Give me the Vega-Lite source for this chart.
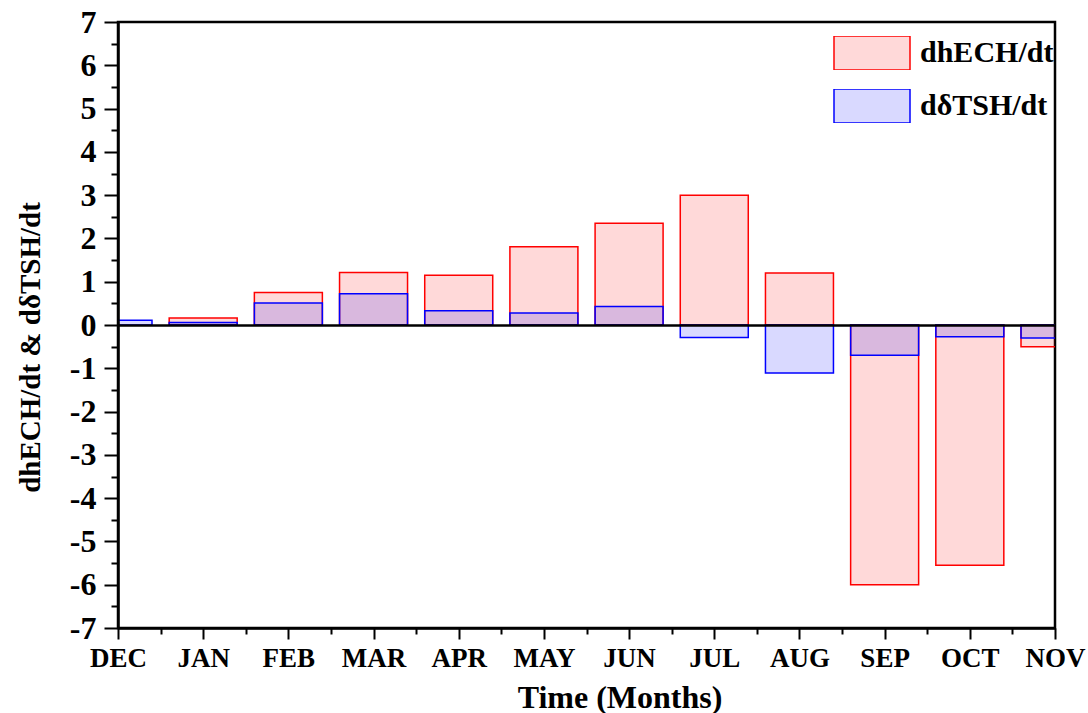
{
  "$schema": "https://vega.github.io/schema/vega-lite/v6.json",
  "width": 937,
  "height": 606,
  "autosize": "none",
  "padding": {"left": 118, "top": 22, "right": 33, "bottom": 85},
  "background": "white",
  "config": {
    "view": {"stroke": "black", "strokeWidth": 2.5},
    "font": "Liberation Serif",
    "axis": {
      "labelFont": "Liberation Serif",
      "labelFontWeight": "bold",
      "labelColor": "black",
      "titleFont": "Liberation Serif",
      "titleFontWeight": "bold",
      "titleColor": "black",
      "domainColor": "black",
      "domainWidth": 2.5,
      "tickColor": "black",
      "tickWidth": 2,
      "grid": false,
      "labelOverlap": false,
      "labelFlush": false
    }
  },
  "data": {
    "values": [
      {"idx": 1, "month": "JAN", "series": "dhECH/dt", "value": 0.16},
      {"idx": 2, "month": "FEB", "series": "dhECH/dt", "value": 0.75},
      {"idx": 3, "month": "MAR", "series": "dhECH/dt", "value": 1.21},
      {"idx": 4, "month": "APR", "series": "dhECH/dt", "value": 1.15},
      {"idx": 5, "month": "MAY", "series": "dhECH/dt", "value": 1.81},
      {"idx": 6, "month": "JUN", "series": "dhECH/dt", "value": 2.35},
      {"idx": 7, "month": "JUL", "series": "dhECH/dt", "value": 3.0},
      {"idx": 8, "month": "AUG", "series": "dhECH/dt", "value": 1.2},
      {"idx": 9, "month": "SEP", "series": "dhECH/dt", "value": -6.0},
      {"idx": 10, "month": "OCT", "series": "dhECH/dt", "value": -5.55},
      {"idx": 11, "month": "NOV", "series": "dhECH/dt", "value": -0.5},
      {"idx": 0, "month": "DEC", "series": "dδTSH/dt", "value": 0.11},
      {"idx": 1, "month": "JAN", "series": "dδTSH/dt", "value": 0.06},
      {"idx": 2, "month": "FEB", "series": "dδTSH/dt", "value": 0.51},
      {"idx": 3, "month": "MAR", "series": "dδTSH/dt", "value": 0.72},
      {"idx": 4, "month": "APR", "series": "dδTSH/dt", "value": 0.33},
      {"idx": 5, "month": "MAY", "series": "dδTSH/dt", "value": 0.28},
      {"idx": 6, "month": "JUN", "series": "dδTSH/dt", "value": 0.43},
      {"idx": 7, "month": "JUL", "series": "dδTSH/dt", "value": -0.29},
      {"idx": 8, "month": "AUG", "series": "dδTSH/dt", "value": -1.11},
      {"idx": 9, "month": "SEP", "series": "dδTSH/dt", "value": -0.7},
      {"idx": 10, "month": "OCT", "series": "dδTSH/dt", "value": -0.27},
      {"idx": 11, "month": "NOV", "series": "dδTSH/dt", "value": -0.3}
    ]
  },
  "mark": {"type": "bar", "orient": "vertical", "size": 68, "strokeWidth": 1.5, "clip": true},
  "encoding": {
    "x": {
      "field": "idx",
      "type": "quantitative",
      "scale": {"domain": [0, 11], "nice": false, "zero": false, "padding": 0},
      "axis": {
        "values": [0, 0.5, 1, 1.5, 2, 2.5, 3, 3.5, 4, 4.5, 5, 5.5, 6, 6.5, 7, 7.5, 8, 8.5, 9, 9.5, 10, 10.5, 11],
        "labelExpr": "datum.value % 1 === 0 ? ['DEC','JAN','FEB','MAR','APR','MAY','JUN','JUL','AUG','SEP','OCT','NOV'][datum.value] : ''",
        "tickSize": {"condition": {"test": "datum.value % 1 !== 0", "value": 6}, "value": 11},
        "labelFontSize": 27,
        "labelPadding": 6,
        "title": "Time (Months)",
        "titleFontSize": 32,
        "titleX": 501.5,
        "titleY": 79,
        "titleBaseline": "alphabetic",
        "titleAlign": "center",
        "zindex": 1
      }
    },
    "y": {
      "field": "value",
      "type": "quantitative",
      "stack": null,
      "scale": {"domain": [-7, 7], "nice": false, "padding": 0},
      "axis": {
        "values": [-7, -6.5, -6, -5.5, -5, -4.5, -4, -3.5, -3, -2.5, -2, -1.5, -1, -0.5, 0, 0.5, 1, 1.5, 2, 2.5, 3, 3.5, 4, 4.5, 5, 5.5, 6, 6.5, 7],
        "labelExpr": "datum.value % 1 === 0 ? '' + datum.value : ''",
        "tickSize": {"condition": {"test": "datum.value % 1 !== 0", "value": 7}, "value": 14},
        "labelFontSize": 32,
        "labelPadding": 8,
        "grid": true,
        "gridColor": "black",
        "gridWidth": 2.5,
        "gridOpacity": {"condition": {"test": "datum.value === 0", "value": 1}, "value": 0},
        "title": "dhECH/dt & dδTSH/dt",
        "titleFontSize": 29,
        "titleX": -88,
        "titleY": 325,
        "titleBaseline": "middle",
        "titleAlign": "center",
        "zindex": 1
      }
    },
    "fill": {
      "field": "series",
      "type": "nominal",
      "scale": {"domain": ["dhECH/dt", "dδTSH/dt"], "range": ["rgba(255,0,0,0.15)", "rgba(0,0,255,0.15)"]},
      "legend": {
        "orient": "none",
        "legendX": 715,
        "legendY": 14,
        "title": null,
        "padding": 0,
        "symbolType": "M-1,-0.447H1V0.447H-1Z",
        "symbolSize": 5776,
        "symbolStrokeWidth": 1.5,
        "labelFont": "Liberation Serif",
        "labelFontSize": 30,
        "labelFontWeight": "bold",
        "labelColor": "black",
        "labelOffset": 9,
        "rowPadding": 19,
        "clipHeight": 34
      }
    },
    "stroke": {
      "field": "series",
      "type": "nominal",
      "scale": {"domain": ["dhECH/dt", "dδTSH/dt"], "range": ["#ff0000", "#0000ff"]},
      "legend": {
        "orient": "none",
        "legendX": 715,
        "legendY": 14,
        "title": null,
        "padding": 0,
        "symbolType": "M-1,-0.447H1V0.447H-1Z",
        "symbolSize": 5776,
        "symbolStrokeWidth": 1.5,
        "labelFont": "Liberation Serif",
        "labelFontSize": 30,
        "labelFontWeight": "bold",
        "labelColor": "black",
        "labelOffset": 9,
        "rowPadding": 19,
        "clipHeight": 34
      }
    }
  }
}
